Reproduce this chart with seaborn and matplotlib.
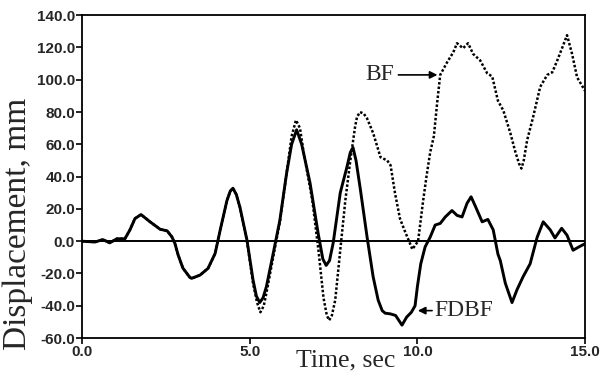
import pandas as pd
import matplotlib
matplotlib.use('Agg')
import matplotlib.pyplot as plt
import seaborn as sns

# FDBF response (solid line)
fdbf_t = [0.0, 0.39, 0.62, 0.83, 1.04, 1.28, 1.43, 1.58, 1.76, 2.03, 2.33, 2.54, 2.68, 2.77,
          2.87, 3.01, 3.22, 3.27, 3.52, 3.76, 3.97, 4.12, 4.32, 4.42, 4.5, 4.6, 4.71, 4.92,
          5.1, 5.2, 5.3, 5.4, 5.5, 5.7, 5.9, 6.1, 6.25, 6.4, 6.55, 6.8, 7.04, 7.18, 7.28,
          7.38, 7.49, 7.7, 7.9, 8.0, 8.08, 8.17, 8.3, 8.5, 8.68, 8.83, 8.95, 9.04, 9.19,
          9.35, 9.54, 9.68, 9.82, 9.93, 10.0, 10.1, 10.23, 10.38, 10.53, 10.68, 10.83,
          11.03, 11.18, 11.33, 11.48, 11.6, 11.72, 11.93, 12.1, 12.26, 12.4, 12.47, 12.62,
          12.82, 12.97, 13.15, 13.36, 13.57, 13.75, 13.96, 14.1, 14.3, 14.46, 14.64, 14.8,
          15.0]
fdbf_y = [0, -0.5, 1, -1, 1.5, 1.5, 7, 14, 16.5, 12, 7.4, 6.4, 2.7, -1.3,
          -8.7, -16.7, -22.5, -23, -21, -16.8, -7.6, 6.8, 25, 31, 32.8, 29, 21, 0.6,
          -24, -34, -38, -35, -28, -7.7, 13, 42, 60, 69, 60, 36, 5, -11, -15,
          -12, -1, 30, 46, 55, 58, 50, 32, 2.5, -22, -36.5, -43, -44.6, -45,
          -46, -52, -47, -44, -40, -28, -14, -3.5, 2.5, 10, 11, 15,
          19, 16, 15, 23.5, 27.5, 22, 12, 13.5, 7, -8, -12, -26,
          -38, -30, -22, -14, 2.5, 12, 7, 2, 8, 3.7, -5.6, -3.7,
          -1.5]

# BF response (dotted line)
bf_t = [0.0, 0.39, 0.62, 0.83, 1.04, 1.28, 1.43, 1.58, 1.76, 2.03, 2.33, 2.54, 2.68, 2.77,
        2.87, 3.01, 3.22, 3.27, 3.52, 3.76, 3.97, 4.12, 4.32, 4.42, 4.5, 4.6, 4.71, 4.92,
        5.1, 5.22, 5.32, 5.42, 5.5, 5.7, 5.9, 6.1, 6.25, 6.38, 6.5, 6.6, 6.87, 7.05, 7.2,
        7.3, 7.37, 7.45, 7.55, 7.7, 7.85, 8.0, 8.14, 8.2, 8.29, 8.4, 8.5, 8.68, 8.9, 9.1,
        9.2, 9.33, 9.48, 9.63, 9.85, 10.02, 10.17, 10.27, 10.38, 10.49, 10.59, 10.68,
        10.89, 11.07, 11.18, 11.36, 11.51, 11.66, 11.87, 12.08, 12.23, 12.4, 12.56,
        12.77, 12.91, 13.03, 13.1, 13.17, 13.27, 13.45, 13.66, 13.87, 14.02, 14.17,
        14.32, 14.46, 14.61, 14.76, 15.0]
bf_y = [0, -0.5, 1, -1, 1.5, 1.5, 7, 14, 16.5, 12, 7.4, 6.4, 2.7, -1.3,
        -8.7, -16.7, -22.5, -23, -21, -16.8, -7.6, 6.8, 25, 31, 32.8, 29, 21, 0.0,
        -26, -38, -44, -40, -32, -10, 12, 42, 65, 75, 70, 56, 25, -5.6, -35,
        -46, -49, -46, -36.5, -5.6, 25, 50, 70.6, 77, 80, 79, 76, 67, 52, 50,
        47, 30, 14, 6, -5, 0, 25, 40, 55, 65, 86, 103,
        111, 117, 122.6, 119.5, 122.6, 116, 112, 104, 102, 87, 81,
        67, 56, 48, 45, 50, 62.5, 77, 95.6, 103, 104.6, 112,
        120, 127.6, 116, 101.5, 93]

y_ticks = [-60, -40, -20, 0, 20, 40, 60, 80, 100, 120, 140]
x_ticks = [0, 5, 10, 15]

fdbf = pd.DataFrame({'t': fdbf_t, 'disp': fdbf_y})
bf = pd.DataFrame({'t': bf_t, 'disp': bf_y})

sns.set_style('ticks')
plt.rcParams['font.family'] = ['Liberation Serif', 'DejaVu Serif']

fig = plt.figure(figsize=(6.07, 3.79), dpi=100)
ax = fig.add_axes([0.135, 0.108, 0.829, 0.852])

sns.lineplot(data=bf, x='t', y='disp', ax=ax, color='black', lw=1.8,
             linestyle=(0, (1, 0.8)), estimator=None, sort=False)
sns.lineplot(data=fdbf, x='t', y='disp', ax=ax, color='black', lw=2.1,
             estimator=None, sort=False)
ax.axhline(0, color='black', lw=1.4, zorder=1)

ax.set_xlim(0, 15)
ax.set_ylim(-60, 140)
ax.set_xticks(x_ticks)
ax.set_xticklabels(['%.1f' % v for v in x_ticks])
ax.set_yticks(y_ticks)
ax.set_yticklabels(['%.1f' % v for v in y_ticks])
ax.tick_params(direction='out', length=4, width=1.2, color='black', pad=1)
for lab in ax.get_xticklabels() + ax.get_yticklabels():
    lab.set_family('Liberation Sans')
    lab.set_fontweight('bold')
    lab.set_fontsize(11)
for s in ax.spines.values():
    s.set_visible(True)
    s.set_linewidth(1.3)
    s.set_color('black')

ax.set_xlabel('Time, sec', fontsize=18.5)
ax.set_ylabel('Displacement, mm', fontsize=24)
ax.xaxis.set_label_coords(0.525, -0.035)
ax.yaxis.set_label_coords(-0.098, 0.353)

ax.annotate('', xy=(10.68, 103), xytext=(9.35, 103),
            arrowprops=dict(arrowstyle='-|>', lw=1.2, color='black', mutation_scale=11))
ax.text(9.3, 103, 'BF', fontsize=17, ha='right', va='center')
ax.annotate('', xy=(9.93, -43), xytext=(10.52, -43),
            arrowprops=dict(arrowstyle='-|>', lw=1.2, color='black', mutation_scale=11))
ax.text(10.52, -43, 'FDBF', fontsize=17, ha='left', va='center')

plt.savefig('out.png', dpi=100)
